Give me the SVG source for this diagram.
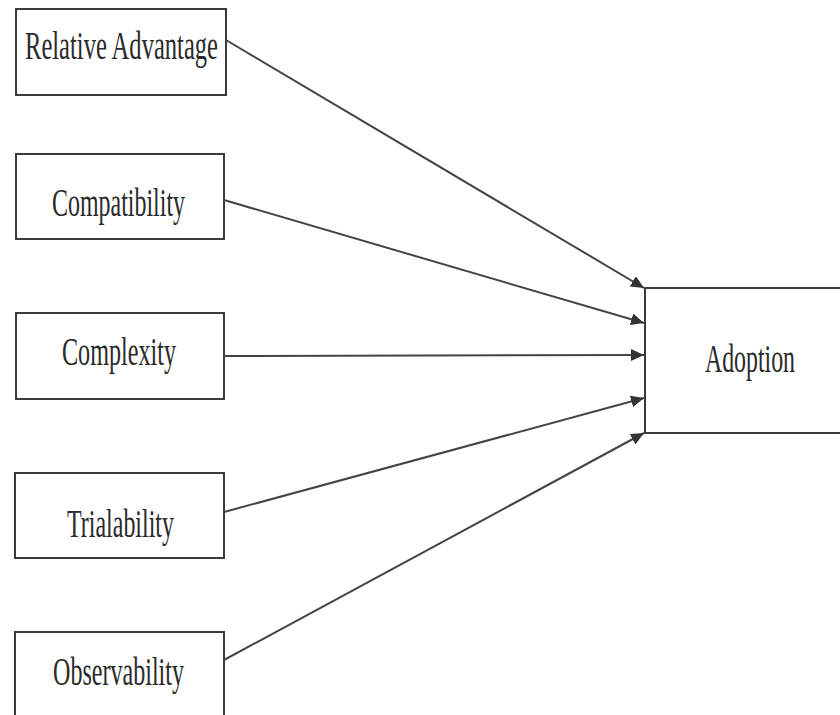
<svg xmlns="http://www.w3.org/2000/svg" width="840" height="715" viewBox="0 0 840 715">
<defs>
<style>
.box{fill:#fff;stroke:#3a3a3a;stroke-width:2}
.lbl{font-family:"Liberation Serif","Times New Roman",serif;font-size:40px;fill:#2a2a2a;text-anchor:middle}
.edge{stroke:#444;stroke-width:2;fill:none;marker-end:url(#ah)}
</style>
<marker id="ah" viewBox="0 0 13 12" refX="13" refY="6" markerWidth="13" markerHeight="12" markerUnits="userSpaceOnUse" orient="auto">
<path d="M0,0 L13,6 L0,12 Z" fill="#333"/>
</marker>
</defs>
<rect width="840" height="715" fill="#fff"/>
<g id="n-relative">
<rect class="box" x="16" y="9" width="210" height="86"/>
<text class="lbl" x="121.5" y="59" textLength="193" lengthAdjust="spacingAndGlyphs">Relative Advantage</text>
</g>
<g id="n-compat">
<rect class="box" x="16" y="154" width="208" height="85"/>
<text class="lbl" x="118.5" y="216" textLength="133" lengthAdjust="spacingAndGlyphs">Compatibility</text>
</g>
<g id="n-complex">
<rect class="box" x="16" y="313" width="208" height="86"/>
<text class="lbl" x="119" y="365" textLength="114" lengthAdjust="spacingAndGlyphs">Complexity</text>
</g>
<g id="n-trial">
<rect class="box" x="15" y="473" width="209" height="85"/>
<text class="lbl" x="120.5" y="537" textLength="107" lengthAdjust="spacingAndGlyphs">Trialability</text>
</g>
<g id="n-observ">
<path class="box" d="M15,715 V632 H224 V715"/>
<text class="lbl" x="118.5" y="685" textLength="131" lengthAdjust="spacingAndGlyphs">Observability</text>
</g>
<g id="n-adoption">
<path class="box" d="M840,288 H645 V433 H840"/>
<text class="lbl" x="750" y="372" font-size="37" textLength="90" lengthAdjust="spacingAndGlyphs">Adoption</text>
</g>
<g id="connectors">
<line class="edge" x1="226" y1="40" x2="644" y2="288"/>
<line class="edge" x1="224" y1="200" x2="644" y2="323"/>
<line class="edge" x1="224" y1="356" x2="644" y2="355"/>
<line class="edge" x1="224" y1="512" x2="644" y2="398"/>
<line class="edge" x1="224" y1="660" x2="644" y2="433"/>
</g>
</svg>
